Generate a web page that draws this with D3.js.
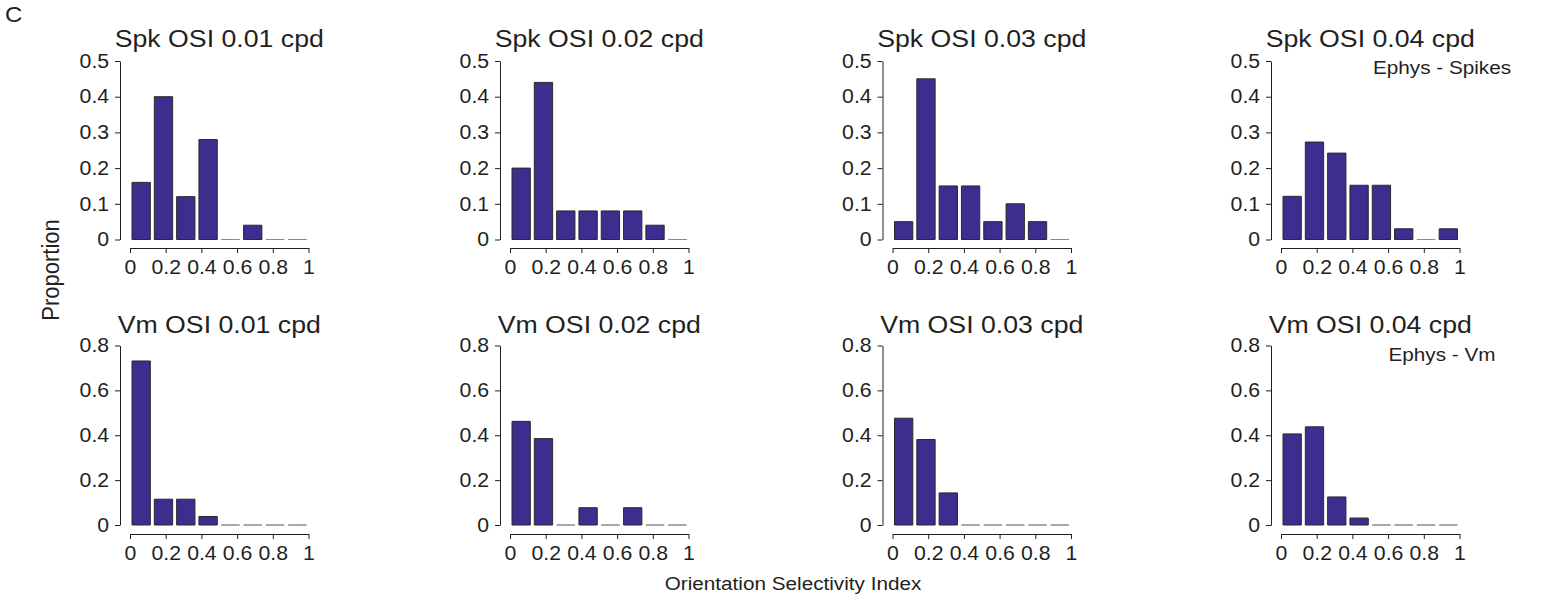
<!DOCTYPE html>
<html><head><meta charset="utf-8">
<script src="https://cdn.jsdelivr.net/npm/d3@7"></script>
<style>
body{margin:0;background:#fff}
svg{display:block}
text{font-family:"Liberation Sans",Arial,Helvetica,sans-serif;fill:#231f20}
</style>
</head><body>
<svg id="chart" width="1546" height="600"></svg>
<script>
// ---------- data ----------
const frequencies = ["0.01 cpd", "0.02 cpd", "0.03 cpd", "0.04 cpd"];
const binEdges = [0, 0.125, 0.25, 0.375, 0.5, 0.625, 0.75, 0.875, 1];
const spk001 = [0.16, 0.40, 0.12, 0.28, 0, 0.04, 0, 0];
const spk002 = [0.20, 0.44, 0.08, 0.08, 0.08, 0.08, 0.04, 0];
const spk003 = [0.05, 0.45, 0.15, 0.15, 0.05, 0.10, 0.05, 0];
const spk004 = [0.121, 0.273, 0.242, 0.152, 0.152, 0.030, 0, 0.030];
const vm001 = [0.731, 0.115, 0.115, 0.038, 0, 0, 0, 0];
const vm002 = [0.462, 0.385, 0, 0.077, 0, 0.077, 0, 0];
const vm003 = [0.476, 0.381, 0.143, 0, 0, 0, 0, 0];
const vm004 = [0.406, 0.4375, 0.125, 0.031, 0, 0, 0, 0];
const xTicks = [0, 0.2, 0.4, 0.6, 0.8, 1];
const spkYTicks = [0, 0.1, 0.2, 0.3, 0.4, 0.5];
const vmYTicks = [0, 0.2, 0.4, 0.6, 0.8];

// ---------- layout ----------
const SX = 1.09;                 // horizontal glyph stretch of the original
const panelX0 = [130, 510, 892.5, 1281];
const panelW = 178.5;
const barColor = "#3e2d8f";
const ink = "#231f20";

const rows = [
  {prefix: "Spk OSI ", data: [spk001, spk002, spk003, spk004], yTicks: spkYTicks, yMax: 0.5,
   yTop: 61, yBottom: 239.5, axisY: 248, titleY: 46.5, tag: "Ephys - Spikes", tagY: 73.5},
  {prefix: "Vm OSI ", data: [vm001, vm002, vm003, vm004], yTicks: vmYTicks, yMax: 0.8,
   yTop: 345.5, yBottom: 525, axisY: 534, titleY: 332.5, tag: "Ephys - Vm", tagY: 361}
];

const svg = d3.select("#chart");

function label(txt, x, y, size, anchor, extra) {
  return svg.append("text")
    .attr("transform", `translate(${x},${y}) scale(${SX},1)` + (extra || ""))
    .attr("text-anchor", anchor)
    .style("font-size", size + "px")
    .text(txt);
}

const fmt = d3.format("~g");

rows.forEach(row => {
  row.data.forEach((vals, p) => {
    const x0 = panelX0[p];
    const x = d3.scaleLinear().domain([0, 1]).range([x0, x0 + panelW]);
    const y = d3.scaleLinear().domain([0, row.yMax]).range([row.yBottom, row.yTop]);

    // bars
    svg.append("g").selectAll("path").data(vals).join("path")
      .attr("d", (v, i) => {
        const a = x(binEdges[i]) + 2, b = x(binEdges[i + 1]) - 2;
        const y0 = y(0), y1 = y(v);
        return `M${a},${y0}V${y1}H${b}V${y0}Z`;
      })
      .attr("fill", barColor)
      .attr("stroke", v => v === 0 ? "#8a8a8a" : "#2a2a2a")
      .attr("stroke-width", 1);

    // x axis
    const gx = svg.append("g")
      .attr("transform", `translate(0,${row.axisY})`)
      .call(d3.axisBottom(x).tickValues(xTicks).tickFormat(fmt)
        .tickSize(5).tickSizeOuter(0).tickPadding(7));
    gx.attr("font-size", null).attr("font-family", null).attr("color", ink);
    gx.selectAll("text").attr("transform", `scale(${SX},1)`).style("font-size", "19.5px");

    // y axis
    const gy = svg.append("g")
      .attr("transform", `translate(${x0 - 10},0)`)
      .call(d3.axisLeft(y).tickValues(row.yTicks).tickFormat(fmt)
        .tickSize(5).tickSizeOuter(0).tickPadding(5));
    gy.attr("font-size", null).attr("font-family", null).attr("color", ink);
    gy.selectAll("text").attr("transform", `scale(${SX},1)`).style("font-size", "19.5px");

    // title
    label(row.prefix + frequencies[p], x0 + panelW / 2, row.titleY, 24.5, "middle");
  });
  label(row.tag, 1442, row.tagY, 19, "middle");
});

// shared labels
label("Proportion", 59, 270, 22, "middle", " rotate(-90)");
label("Orientation Selectivity Index", 793, 590, 19, "middle");
label("C", 5, 22, 22, "start");
</script>
</body></html>
